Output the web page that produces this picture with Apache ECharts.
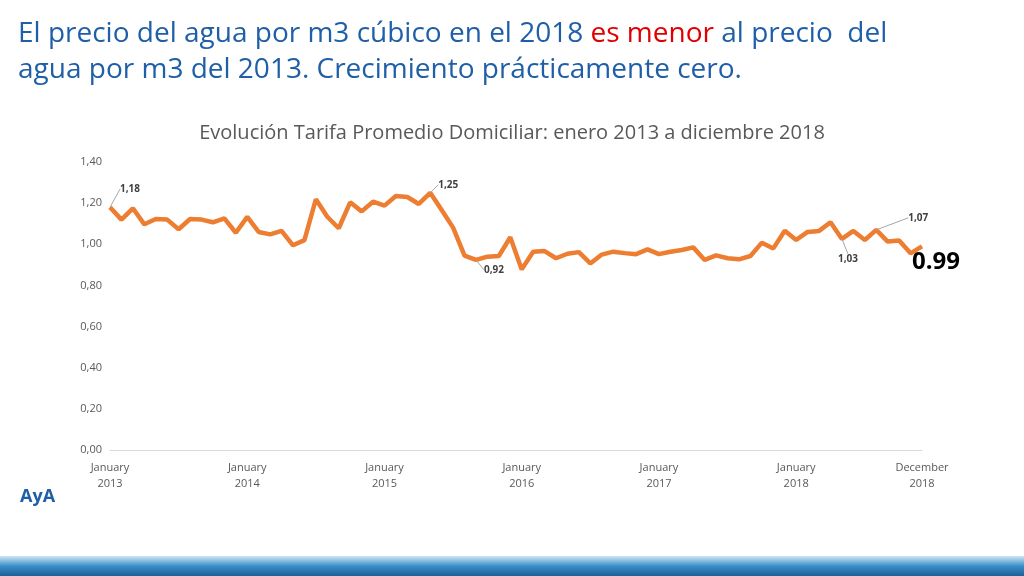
<!DOCTYPE html>
<html><head><meta charset="utf-8">
<script src="https://cdn.jsdelivr.net/npm/echarts@6/dist/echarts.min.js"></script>
<style>html,body{margin:0;padding:0;background:#fff}#c{width:1024px;height:576px}</style>
</head><body><div id="c"></div>
<script>
const months = [];
const years = [2013,2014,2015,2016,2017,2018];
const monthNames = ['January','February','March','April','May','June','July','August','September','October','November','December'];
years.forEach(y => monthNames.forEach(m => months.push(m + ' ' + y)));
const tarifa = [
 1.18,1.12,1.175,1.097,1.123,1.12,1.073,1.123,1.12,1.107,1.126,1.056,
 1.133,1.06,1.048,1.065,0.995,1.02,1.219,1.134,1.078,1.204,1.16,1.207,
 1.188,1.235,1.23,1.196,1.25,1.167,1.081,0.945,0.924,0.94,0.943,1.034,
 0.878,0.964,0.967,0.932,0.954,0.962,0.907,0.95,0.964,0.957,0.952,0.975,
 0.952,0.964,0.972,0.985,0.924,0.946,0.932,0.927,0.943,1.008,0.98,1.066,
 1.021,1.06,1.065,1.107,1.026,1.065,1.021,1.07,1.013,1.018,0.956,0.99
];
const yTicks = [0,0.2,0.4,0.6,0.8,1.0,1.2,1.4];
const tickIdx = [0,12,24,36,48,60,71];
const small = {show:true,fontSize:10,fontWeight:'bold',color:'#404040',fontFamily:'Open Sans'};
const labelMap = {
  0:{text:'1,18',dx:20,dy:-8},
  28:{text:'1,25',dx:18,dy:2},
  32:{text:'0,92',dx:18,dy:20},
  64:{text:'1,03',dx:6,dy:30},
  67:{text:'1,07',dx:42,dy:-2},
  71:{text:'0.99',dx:14,dy:0}
};
const data = tarifa.map((v,i)=>{
  if (i===71) return {value:v,label:{show:true,position:'bottom',distance:4,formatter:'0.99',fontSize:24,fontWeight:'bold',color:'#000',fontFamily:'Open Sans'},labelLine:{show:false}};
  if (labelMap[i]) return {value:v,label:Object.assign({},small,{position:'top',formatter:labelMap[i].text})};
  return {value:v,label:{show:false}};
});
const chart = echarts.init(document.getElementById('c'));
chart.setOption({
  animation:false,
  title:{text:'Evolución Tarifa Promedio Domiciliar: enero 2013 a diciembre 2018',left:'center',top:118,
    textStyle:{fontSize:20,fontWeight:'normal',color:'#595959',fontFamily:'Open Sans'}},
  grid:{left:110,right:102,top:162,bottom:126},
  xAxis:{type:'category',data:months,boundaryGap:false,
    axisLine:{lineStyle:{color:'#d9d9d9'}},axisTick:{show:false},
    axisLabel:{interval:(i)=>tickIdx.includes(i),color:'#595959',fontSize:11,lineHeight:16,margin:10,fontFamily:'Open Sans',
      formatter:(v,i)=>{const p=v.split(' ');return p[0]+'\n'+p[1];}}},
  yAxis:{type:'value',min:0,max:1.4,interval:0.2,
    axisLine:{show:false},axisTick:{show:false},splitLine:{show:false},
    axisLabel:{color:'#595959',fontSize:11,fontFamily:'Open Sans',formatter:v=>v.toFixed(2).replace('.',',')}},
  series:[{type:'line',data:data,symbol:'circle',symbolSize:0.1,showSymbol:true,
    lineStyle:{color:'#ED7D31',width:4.5},itemStyle:{color:'#ED7D31'},
    label:{show:false},
    labelLine:{show:true,lineStyle:{color:'#a6a6a6',width:1}},
    labelLayout:(p)=>{const m=labelMap[p.dataIndex];return m?{dx:m.dx,dy:m.dy}:{};}
  }],
  graphic:[
    {type:'text',left:18,top:20,style:{
      text:'{b|El precio del agua por m3 cúbico en el 2018 }{r|es menor}{b| al precio  del}\n{b|agua por m3 del 2013. Crecimiento prácticamente cero.}',
      rich:{b:{fontSize:28,fill:'#1F5FA8',fontFamily:'Open Sans',lineHeight:36},
            r:{fontSize:28,fill:'#E00000',fontFamily:'Open Sans',lineHeight:36}}}},
    {type:'rect',shape:{x:0,y:556,width:1024,height:20},style:{fill:new echarts.graphic.LinearGradient(0,0,0,1,[{offset:0,color:'#cfe6f5'},{offset:0.5,color:'#3a8fc8'},{offset:1,color:'#1d5f99'}])}},
    {type:'text',left:20,top:488,style:{text:'AyA',fontSize:18,fontWeight:'bold',fill:'#1F5FA8',fontFamily:'Open Sans'}}
  ]
});
</script></body></html>
